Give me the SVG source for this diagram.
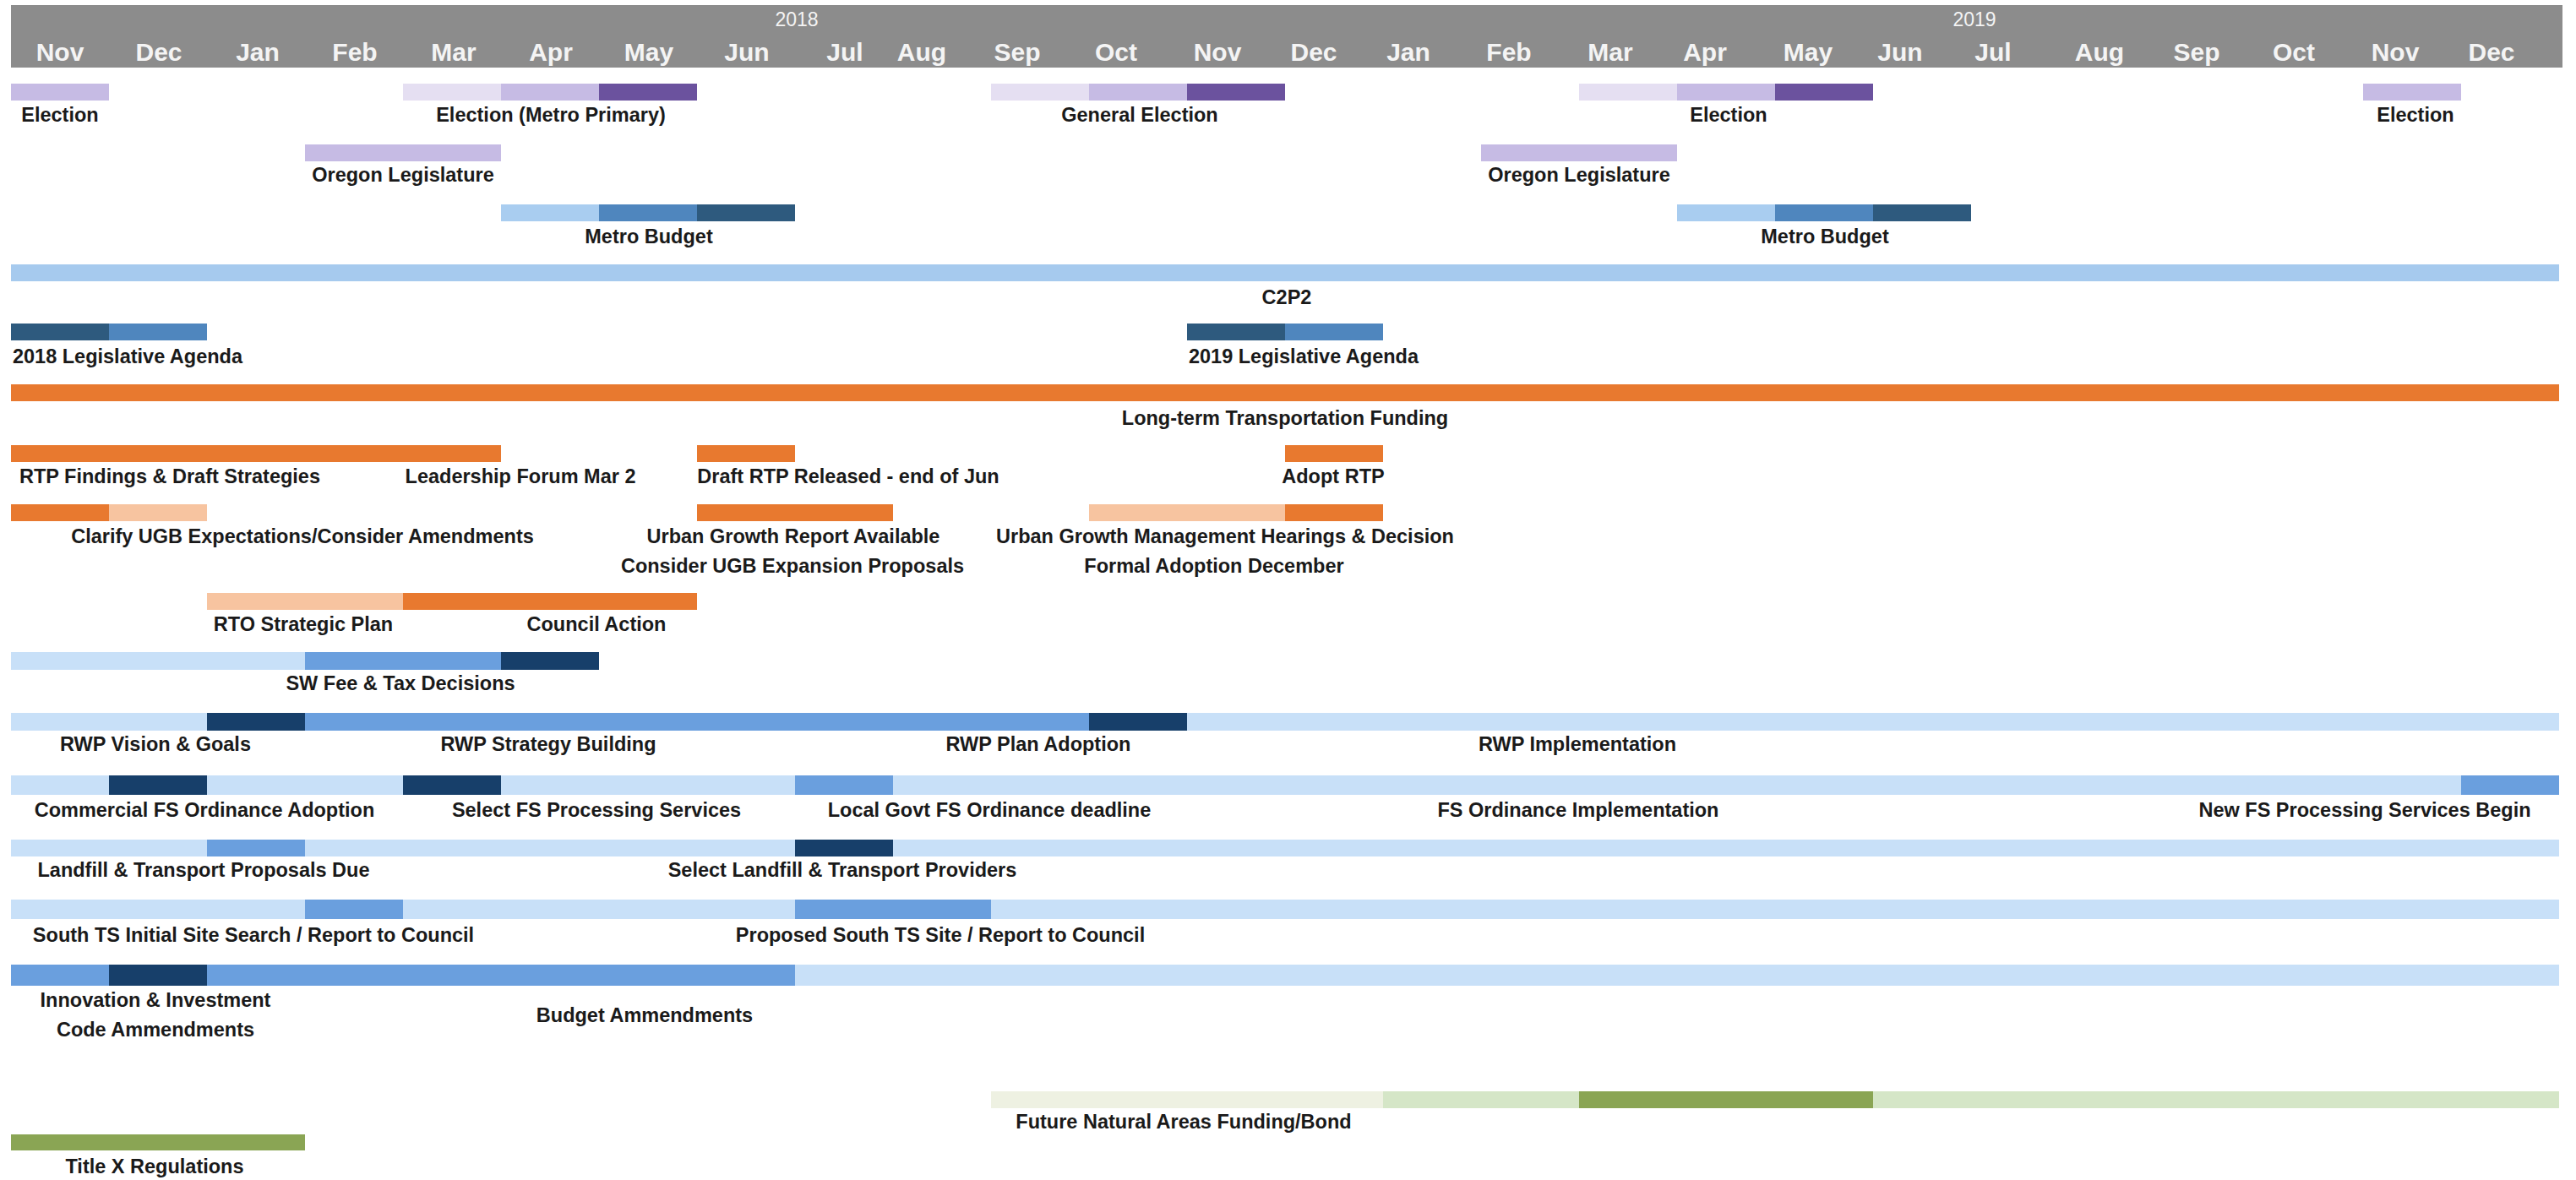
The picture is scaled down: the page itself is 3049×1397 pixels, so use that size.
<svg xmlns="http://www.w3.org/2000/svg" width="3049" height="1397" viewBox="0 0 3049 1397">
<style>
.pv{fill:#E5DFF2}.pl{fill:#C6BBE4}.pd{fill:#6B529E}
.bl{fill:#A9CDF0}.bm{fill:#4F86BE}.bd{fill:#2E5A7E}
.c2{fill:#A6CAEE}
.or{fill:#E8792F}.ol{fill:#F7C4A0}
.rl{fill:#C8E0F8}.rm{fill:#6A9FDE}.rn{fill:#173F6A}
.gc{fill:#EEF1E2}.gl{fill:#D5E6C7}.gd{fill:#8AA554}
.lbl{font-family:"Liberation Sans",Arial,sans-serif;font-weight:bold;font-size:23.5px;fill:#1a1a1a;text-anchor:middle}
.mon{font-family:"Liberation Sans",Arial,sans-serif;font-weight:bold;font-size:30px;fill:#f4f4f4;text-anchor:middle}
.yr{font-family:"Liberation Sans",Arial,sans-serif;font-size:23px;fill:#f4f4f4;text-anchor:middle}
</style>
<rect x="0" y="0" width="3049" height="1397" fill="#ffffff"/>
<g id="header">
<rect x="13" y="6" width="3020" height="74" fill="#8c8c8c"/>
<text class="yr" x="943" y="31">2018</text>
<text class="yr" x="2337" y="31">2019</text>
<text class="mon" x="71" y="72">Nov</text>
<text class="mon" x="188" y="72">Dec</text>
<text class="mon" x="305" y="72">Jan</text>
<text class="mon" x="420" y="72">Feb</text>
<text class="mon" x="537" y="72">Mar</text>
<text class="mon" x="652" y="72">Apr</text>
<text class="mon" x="768" y="72">May</text>
<text class="mon" x="884" y="72">Jun</text>
<text class="mon" x="1000" y="72">Jul</text>
<text class="mon" x="1091" y="72">Aug</text>
<text class="mon" x="1204" y="72">Sep</text>
<text class="mon" x="1321" y="72">Oct</text>
<text class="mon" x="1441" y="72">Nov</text>
<text class="mon" x="1555" y="72">Dec</text>
<text class="mon" x="1667" y="72">Jan</text>
<text class="mon" x="1786" y="72">Feb</text>
<text class="mon" x="1906" y="72">Mar</text>
<text class="mon" x="2018" y="72">Apr</text>
<text class="mon" x="2140" y="72">May</text>
<text class="mon" x="2249" y="72">Jun</text>
<text class="mon" x="2359" y="72">Jul</text>
<text class="mon" x="2485" y="72">Aug</text>
<text class="mon" x="2600" y="72">Sep</text>
<text class="mon" x="2715" y="72">Oct</text>
<text class="mon" x="2835" y="72">Nov</text>
<text class="mon" x="2949" y="72">Dec</text>
</g>

<g id="election-2017">
<rect class="pl" x="13" y="99" width="116" height="20"/>
<text class="lbl" x="71" y="144">Election</text>
</g>
<g id="election-metro-primary">
<rect class="pv" x="477" y="99" width="116" height="20"/>
<rect class="pl" x="593" y="99" width="116" height="20"/>
<rect class="pd" x="709" y="99" width="116" height="20"/>
<text class="lbl" x="652" y="144">Election (Metro Primary)</text>
</g>
<g id="general-election">
<rect class="pv" x="1173" y="99" width="116" height="20"/>
<rect class="pl" x="1289" y="99" width="116" height="20"/>
<rect class="pd" x="1405" y="99" width="116" height="20"/>
<text class="lbl" x="1349" y="144">General Election</text>
</g>
<g id="election-2019-may">
<rect class="pv" x="1869" y="99" width="116" height="20"/>
<rect class="pl" x="1985" y="99" width="116" height="20"/>
<rect class="pd" x="2101" y="99" width="116" height="20"/>
<text class="lbl" x="2046" y="144">Election</text>
</g>
<g id="election-2019-nov">
<rect class="pl" x="2797" y="99" width="116" height="20"/>
<text class="lbl" x="2859" y="144">Election</text>
</g>

<g id="oregon-legislature-2018">
<rect class="pl" x="361" y="171" width="232" height="20"/>
<text class="lbl" x="477" y="215">Oregon Legislature</text>
</g>
<g id="oregon-legislature-2019">
<rect class="pl" x="1753" y="171" width="232" height="20"/>
<text class="lbl" x="1869" y="215">Oregon Legislature</text>
</g>

<g id="metro-budget-2018">
<rect class="bl" x="593" y="242" width="116" height="20"/>
<rect class="bm" x="709" y="242" width="116" height="20"/>
<rect class="bd" x="825" y="242" width="116" height="20"/>
<text class="lbl" x="768" y="288">Metro Budget</text>
</g>
<g id="metro-budget-2019">
<rect class="bl" x="1985" y="242" width="116" height="20"/>
<rect class="bm" x="2101" y="242" width="116" height="20"/>
<rect class="bd" x="2217" y="242" width="116" height="20"/>
<text class="lbl" x="2160" y="288">Metro Budget</text>
</g>

<g id="c2p2">
<rect class="c2" x="13" y="313" width="3016" height="20"/>
<text class="lbl" x="1523" y="360">C2P2</text>
</g>

<g id="legislative-agenda-2018">
<rect class="bd" x="13" y="383" width="116" height="20"/>
<rect class="bm" x="129" y="383" width="116" height="20"/>
<text class="lbl" x="151" y="430">2018 Legislative Agenda</text>
</g>
<g id="legislative-agenda-2019">
<rect class="bd" x="1405" y="383" width="116" height="20"/>
<rect class="bm" x="1521" y="383" width="116" height="20"/>
<text class="lbl" x="1543" y="430">2019 Legislative Agenda</text>
</g>

<g id="long-term-transportation-funding">
<rect class="or" x="13" y="455" width="3016" height="20"/>
<text class="lbl" x="1521" y="503">Long-term Transportation Funding</text>
</g>

<g id="rtp">
<rect class="or" x="13" y="527" width="580" height="20"/>
<rect class="or" x="825" y="527" width="116" height="20"/>
<rect class="or" x="1521" y="527" width="116" height="20"/>
<text class="lbl" x="201" y="572">RTP Findings &amp; Draft Strategies</text>
<text class="lbl" x="616" y="572">Leadership Forum Mar 2</text>
<text class="lbl" x="1004" y="572">Draft RTP Released - end of Jun</text>
<text class="lbl" x="1578" y="572">Adopt RTP</text>
</g>

<g id="ugb">
<rect class="or" x="13" y="597" width="116" height="20"/>
<rect class="ol" x="129" y="597" width="116" height="20"/>
<rect class="or" x="825" y="597" width="232" height="20"/>
<rect class="ol" x="1289" y="597" width="232" height="20"/>
<rect class="or" x="1521" y="597" width="116" height="20"/>
<text class="lbl" x="358" y="643">Clarify UGB Expectations/Consider Amendments</text>
<text class="lbl" x="939" y="643">Urban Growth Report Available</text>
<text class="lbl" x="938" y="678">Consider UGB Expansion Proposals</text>
<text class="lbl" x="1450" y="643">Urban Growth Management Hearings &amp; Decision</text>
<text class="lbl" x="1437" y="678">Formal Adoption December</text>
</g>

<g id="rto">
<rect class="ol" x="245" y="702" width="232" height="20"/>
<rect class="or" x="477" y="702" width="348" height="20"/>
<text class="lbl" x="359" y="747">RTO Strategic Plan</text>
<text class="lbl" x="706" y="747">Council Action</text>
</g>

<g id="sw-fee">
<rect class="rl" x="13" y="772" width="348" height="21"/>
<rect class="rm" x="361" y="772" width="232" height="21"/>
<rect class="rn" x="593" y="772" width="116" height="21"/>
<text class="lbl" x="474" y="817">SW Fee &amp; Tax Decisions</text>
</g>

<g id="rwp">
<rect class="rl" x="13" y="844" width="232" height="21"/>
<rect class="rn" x="245" y="844" width="116" height="21"/>
<rect class="rm" x="361" y="844" width="928" height="21"/>
<rect class="rn" x="1289" y="844" width="116" height="21"/>
<rect class="rl" x="1405" y="844" width="1624" height="21"/>
<text class="lbl" x="184" y="889">RWP Vision &amp; Goals</text>
<text class="lbl" x="649" y="889">RWP Strategy Building</text>
<text class="lbl" x="1229" y="889">RWP Plan Adoption</text>
<text class="lbl" x="1867" y="889">RWP Implementation</text>
</g>

<g id="fs">
<rect class="rl" x="13" y="918" width="3016" height="23"/>
<rect class="rn" x="129" y="918" width="116" height="23"/>
<rect class="rn" x="477" y="918" width="116" height="23"/>
<rect class="rm" x="941" y="918" width="116" height="23"/>
<rect class="rm" x="2913" y="918" width="116" height="23"/>
<text class="lbl" x="242" y="967">Commercial FS Ordinance Adoption</text>
<text class="lbl" x="706" y="967">Select FS Processing Services</text>
<text class="lbl" x="1171" y="967">Local Govt FS Ordinance deadline</text>
<text class="lbl" x="1868" y="967">FS Ordinance Implementation</text>
<text class="lbl" x="2799" y="967">New FS Processing Services Begin</text>
</g>

<g id="landfill">
<rect class="rl" x="13" y="994" width="3016" height="20"/>
<rect class="rm" x="245" y="994" width="116" height="20"/>
<rect class="rn" x="941" y="994" width="116" height="20"/>
<text class="lbl" x="241" y="1038">Landfill &amp; Transport Proposals Due</text>
<text class="lbl" x="997" y="1038">Select Landfill &amp; Transport Providers</text>
</g>

<g id="south-ts">
<rect class="rl" x="13" y="1065" width="3016" height="23"/>
<rect class="rm" x="361" y="1065" width="116" height="23"/>
<rect class="rm" x="941" y="1065" width="232" height="23"/>
<text class="lbl" x="300" y="1115">South TS Initial Site Search / Report to Council</text>
<text class="lbl" x="1113" y="1115">Proposed South TS Site / Report to Council</text>
</g>

<g id="innovation-budget">
<rect class="rl" x="13" y="1142" width="3016" height="25"/>
<rect class="rm" x="13" y="1142" width="928" height="25"/>
<rect class="rn" x="129" y="1142" width="116" height="25"/>
<text class="lbl" x="184" y="1192">Innovation &amp; Investment</text>
<text class="lbl" x="184" y="1227">Code Ammendments</text>
<text class="lbl" x="763" y="1210">Budget Ammendments</text>
</g>

<g id="natural-areas">
<rect class="gc" x="1173" y="1292" width="464" height="20"/>
<rect class="gl" x="1637" y="1292" width="232" height="20"/>
<rect class="gd" x="1869" y="1292" width="348" height="20"/>
<rect class="gl" x="2217" y="1292" width="812" height="20"/>
<text class="lbl" x="1401" y="1336">Future Natural Areas Funding/Bond</text>
</g>

<g id="title-x">
<rect class="gd" x="13" y="1343" width="348" height="19"/>
<text class="lbl" x="183" y="1389">Title X Regulations</text>
</g>

<g id="connectors"></g>
</svg>
